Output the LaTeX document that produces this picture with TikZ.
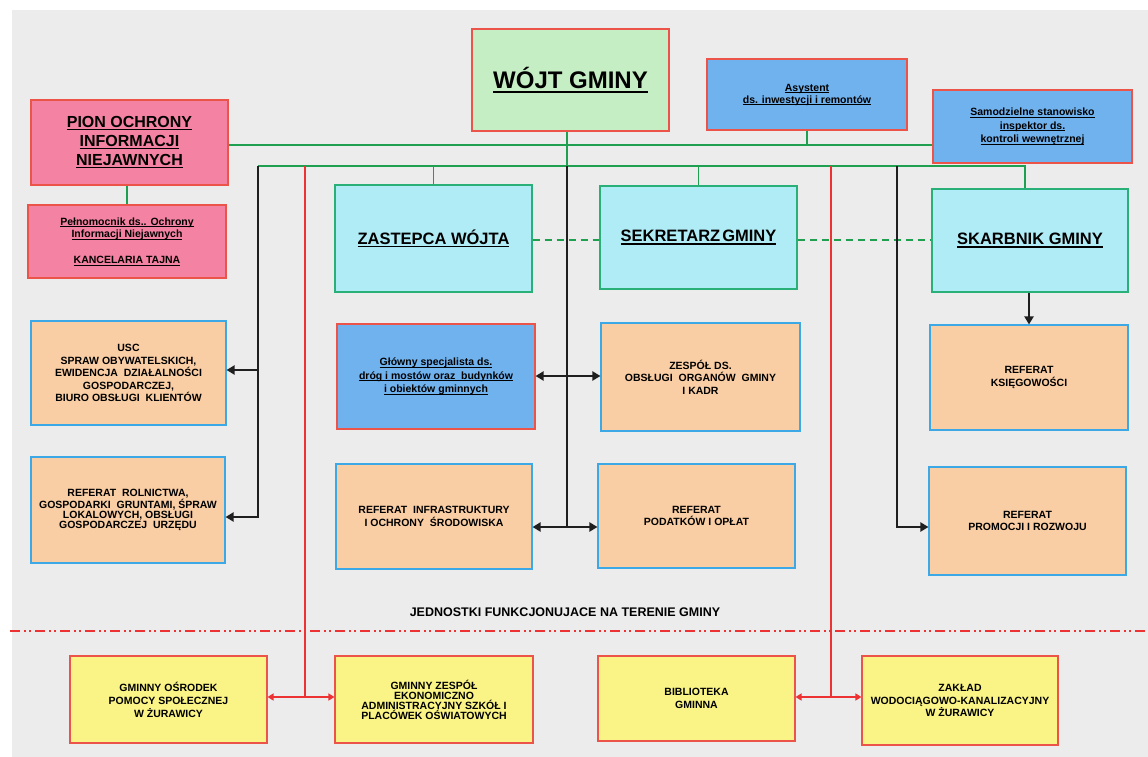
\documentclass[tikz,border=0pt]{standalone}
\usepackage{fontspec}
\setmainfont{Liberation Sans}
\usetikzlibrary{arrows.meta}
\definecolor{bggray}{RGB}{236,236,236}
\definecolor{wojtf}{RGB}{198,238,196}
\definecolor{pinkf}{RGB}{244,130,162}
\definecolor{bluef}{RGB}{112,178,238}
\definecolor{cyanf}{RGB}{176,236,246}
\definecolor{orangef}{RGB}{250,206,164}
\definecolor{yellowf}{RGB}{250,244,134}
\definecolor{redb}{RGB}{236,84,74}
\definecolor{greenb}{RGB}{40,176,120}
\definecolor{blueb}{RGB}{60,168,230}
\definecolor{greenl}{RGB}{30,160,80}
\definecolor{redl}{RGB}{236,50,50}
\newcommand{\myul}[1]{\setbox0\hbox{#1}\rlap{\rule[-0.17em]{\wd0}{0.075em}}\box0}
\tikzset{
  box/.style={draw, line width=1.1pt, inner sep=2pt, align=center},
  fs/.style 2 args={font=\bfseries\fontsize{#1}{#2}\selectfont},
  wh/.style 2 args={minimum width=#1pt, minimum height=#2pt},
  redbox/.style={box, draw=redb},
  tealbox/.style={box, draw=greenb, fill=cyanf},
  orbox/.style={box, draw=blueb, fill=orangef},
  yebox/.style={box, draw=redb, fill=yellowf},
  gl/.style={draw=greenl, line width=1.8pt},
  bk/.style={draw=black!88, line width=2.8pt, line join=miter},
  rd/.style={draw=redl, line width=1.6pt},
  btip/.tip={Triangle[length=8pt,width=9pt]},
  rtip/.tip={Triangle[length=6pt,width=7pt]},
}
\begin{document}
\begin{tikzpicture}[x=1pt,y=-1pt]
\useasboundingbox (0,0) rectangle (1148,757);
\fill[bggray] (12,10) rectangle (1148,757);

% coordinates
\coordinate (busL) at (258,166);
\coordinate (busR) at (1025,166);
\coordinate (mid) at (567,166);
\coordinate (redL) at (305,166);
\coordinate (redR) at (831,166);
\coordinate (blkR) at (897,166);
\coordinate (y145) at (0,145);
\coordinate (y240) at (0,240);
\coordinate (y370) at (0,370);
\coordinate (y376) at (0,376);
\coordinate (y517) at (0,517);
\coordinate (y527) at (0,527);
\coordinate (y697) at (0,697);

% top row
\node[redbox, fill=wojtf, wh={197}{102}, fs={24}{28}] (wojt) at (570.5,80)
  {\myul{WÓJT GMINY}};
\node[redbox, fill=bluef, wh={200}{71}, fs={10.5}{12}] (asyst) at (807,94.5)
  {\myul{Asystent}\\\myul{ds. inwestycji i remontów}};
\node[redbox, fill=bluef, wh={199}{73}, fs={10.5}{13.3}] (samo) at (1032.5,126.5)
  {\myul{Samodzielne stanowisko}\\\myul{inspektor ds.}\\\myul{kontroli wewnętrznej}};
\node[redbox, fill=pinkf, wh={197}{85}, fs={16}{19}] (pion) at (129.5,142.5)
  {\myul{PION OCHRONY}\\\myul{INFORMACJI}\\\myul{NIEJAWNYCH}};
\node[redbox, fill=pinkf, wh={198}{73}, fs={10.5}{12.7}] (peln) at (127,241.5)
  {\myul{Pełnomocnik ds.. Ochrony}\\\myul{Informacji Niejawnych}\\[13pt]\myul{KANCELARIA TAJNA}};

% second row
\node[tealbox, wh={197}{107}, fs={16.5}{19}] (zast) at (433.5,238.5)
  {\myul{ZASTEPCA WÓJTA}};
\node[tealbox, wh={197}{103}, fs={16.5}{19}] (sekr) at (698.5,237.5)
  {\myul{SEKRETARZ\hspace{2pt}GMINY}};
\node[tealbox, wh={196}{103}, fs={16.5}{19}] (skarb) at (1030,240.5)
  {\myul{SKARBNIK GMINY}};

% departments
\node[orbox, wh={195}{104}, fs={10.5}{12.5}] (usc) at (128.5,373)
  {USC\\SPRAW OBYWATELSKICH,\\EWIDENCJA\ \ DZIAŁALNOŚCI\\GOSPODARCZEJ,\\BIURO OBSŁUGI\ \ KLIENTÓW};
\node[orbox, wh={194}{106}, fs={10.5}{10}] (roln) at (128,510)
  {REFERAT\ \ ROLNICTWA,\\GOSPODARKI\ \ GRUNTAMI,\ ŚPRAW\\LOKALOWYCH,\ OBSŁUGI\\GOSPODARCZEJ\ \ URZĘDU};
\node[redbox, fill=bluef, wh={198}{105}, fs={10.5}{13.3}] (glow) at (436,376.5)
  {\myul{Główny specjalista ds.}\\\myul{dróg i mostów oraz\ \ budynków}\\\myul{i obiektów gminnych}};
\node[orbox, wh={199}{108}, fs={10.5}{12.5}] (zesp) at (700.5,377)
  {ZESPÓŁ\ DS.\\OBSŁUGI\ \ ORGANÓW\ \ GMINY\\I KADR};
\node[orbox, wh={196}{105}, fs={10.5}{12.5}] (infra) at (434,516.5)
  {REFERAT\ \ INFRASTRUKTURY\\I OCHRONY\ \ ŚRODOWISKA};
\node[orbox, wh={197}{104}, fs={10.5}{12.5}] (podat) at (696.5,516)
  {REFERAT\\PODATKÓW I OPŁAT};
\node[orbox, wh={198}{105}, fs={10.5}{12.5}] (ksieg) at (1029,377.5)
  {REFERAT\\KSIĘGOWOŚCI};
\node[orbox, wh={197}{108}, fs={10.5}{12.5}] (promo) at (1027.5,521)
  {REFERAT\\PROMOCJI I ROZWOJU};

% units
\node[fs={12.5}{14}] (jedn) at (565,612)
  {JEDNOSTKI FUNKCJONUJACE NA TERENIE GMINY};
\draw[redl, line width=1.6pt, dash pattern=on 10pt off 4pt on 2pt off 3pt on 2pt off 4pt]
  (10,631) -- (1148,631);

\node[yebox, wh={197}{87}, fs={10.5}{13}] (gops) at (168.5,699.5)
  {GMINNY OŚRODEK\\POMOCY SPOŁECZNEJ\\W ŻURAWICY};
\node[yebox, wh={198}{87}, fs={10.5}{10}] (gzeas) at (434,699.5)
  {GMINNY ZESPÓŁ\\EKONOMICZNO\\ADMINISTRACYJNY SZKÓŁ I\\PLACÓWEK OŚWIATOWYCH};
\node[yebox, wh={197}{85}, fs={10.5}{13}] (bibl) at (696.5,698.5)
  {BIBLIOTEKA\\GMINNA};
\node[yebox, wh={196}{89}, fs={10.5}{12.5}] (zakl) at (960,700.5)
  {ZAKŁAD\\WODOCIĄGOWO-KANALIZACYJNY\\W ŻURAWICY};

% green connectors
\draw[gl] (pion.east |- y145) -- (samo.west |- y145);
\draw[gl] (asyst.south) -- (asyst.south |- y145);
\draw[gl] (peln.north) -- (peln.north |- pion.south);
\draw[gl] (wojt.south -| mid) -- (mid);
\draw[gl] (busL) -- (busR) -- (skarb.north -| busR);
\draw[gl] (zast.north) -- (zast.north |- busL);
\draw[gl] (sekr.north) -- (sekr.north |- busL);
\draw[gl, dash pattern=on 7pt off 5pt] (zast.east |- y240) -- (sekr.west |- y240);
\draw[gl, dash pattern=on 7pt off 5pt] (sekr.east |- y240) -- (skarb.west |- y240);

% black connectors
\draw[bk] (mid) -- (mid |- y527);
\draw[bk, btip-btip] (glow.east |- y376) -- (zesp.west |- y376);
\draw[bk, btip-btip] (infra.east |- y527) -- (podat.west |- y527);
\draw[bk, -btip] (busL) -- (busL |- y517) -- (roln.east |- y517);
\draw[bk, -btip] (busL |- y370) -- (usc.east |- y370);
\draw[bk, -btip] (blkR) -- (blkR |- y527) -- (promo.west |- y527);
\draw[bk, -btip] (ksieg.north |- skarb.south) -- (ksieg.north);

% red connectors
\draw[rd] (redL) -- (redL |- y697);
\draw[rd, rtip-rtip] (gops.east |- y697) -- (gzeas.west |- y697);
\draw[rd] (redR) -- (redR |- y697);
\draw[rd, rtip-rtip] (bibl.east |- y697) -- (zakl.west |- y697);
\end{tikzpicture}
\end{document}
